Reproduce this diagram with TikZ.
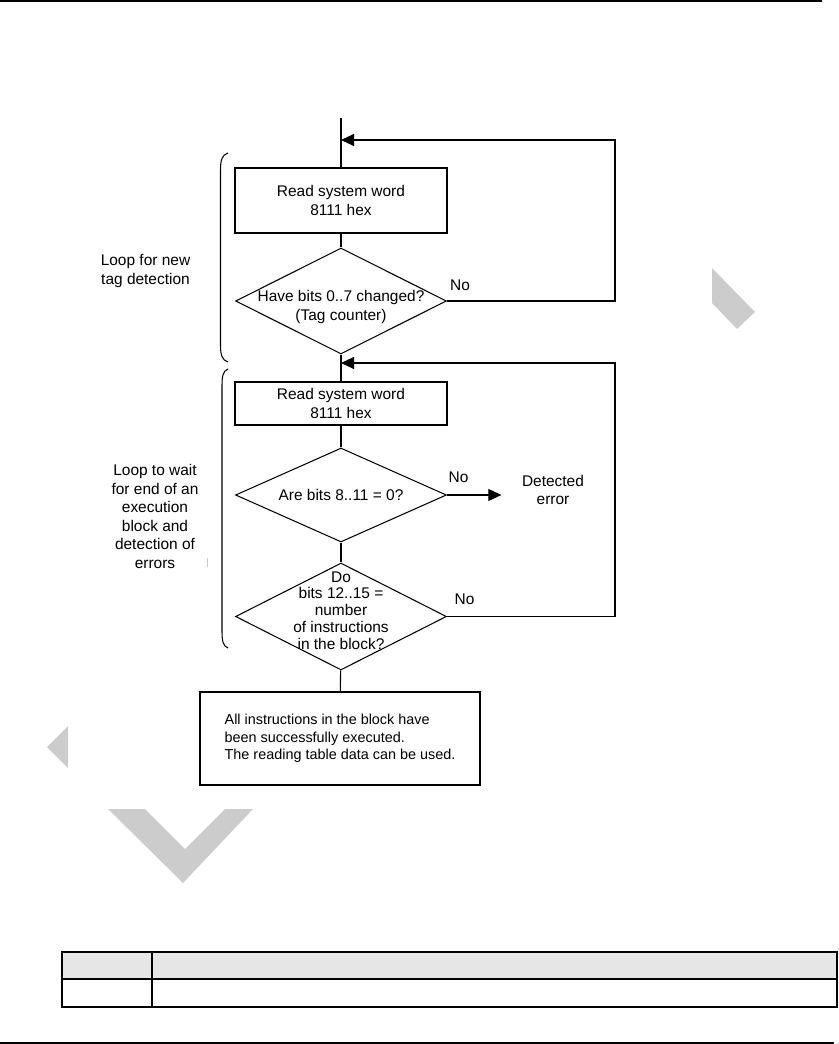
\documentclass[tikz,border=0pt]{standalone}
\usepackage{fontspec}
\setmainfont{Liberation Sans}
\usetikzlibrary{arrows.meta,positioning,shapes.geometric}
\definecolor{MarkGray}{RGB}{204,204,204}
\definecolor{HeadGray}{RGB}{230,230,230}

\begin{document}
\begin{tikzpicture}[
  x=0.02cm,
  y=-0.02cm,
  box/.style={
    rectangle,
    draw,
    line width=0.6pt,
    align=center,
    minimum width=4.24cm,
    minimum height=1.3cm,
    font=\fontsize{8.8}{10.5}\selectfont
  },
  decision/.style={
    diamond,
    draw,
    line width=0.6pt,
    inner sep=0pt,
    minimum width=4.22cm,
    minimum height=2.12cm
  },
  dtext/.style={
    align=center,
    inner sep=0pt,
    font=\fontsize{8.8}{10.5}\selectfont
  },
  note/.style={
    align=center,
    font=\fontsize{8.8}{10.6}\selectfont
  },
  flow/.style={line width=0.6pt},
  arrow/.style={line width=0.6pt, -{Triangle[length=7.4pt,width=6.8pt]}},
  tline/.style={line width=0.8pt}
]
\useasboundingbox (0,0) rectangle (838,1044);

% page rules
\draw[line width=0.9pt] (0,1) -- (822,1);
\draw[line width=0.9pt] (0,1043) -- (834,1043);

% grey marks behind the chart
\fill[MarkGray] (712,268) -- (712,303) -- (737,329) -- (755,312) -- cycle;
\fill[MarkGray] (47,747) -- (68,726) -- (68,768) -- cycle;
\fill[MarkGray] (108,809) -- (145,809) -- (185,849) -- (225,809) -- (253,809) -- (183,883) -- cycle;
\draw[MarkGray, line width=0.5pt] (207,558) -- (207,567);

% loop 1: new tag
\coordinate (start) at (341,118);
\coordinate (j1) at (341,140);
\coordinate (r1) at (615,140);
\node[box] (read1) at (341,200.5) {Read system word\\8111 hex};
\node[decision, label={[dtext, name=chk1t, yshift=-0.12cm]center:{Have bits 0..7 changed?\\(Tag counter)}}] (chk1) at (341,301) {};
\node[note] (no1) at (460,285) {No};

% loop 2: end of block and errors
\coordinate (j2) at (341,363);
\coordinate (r2) at (615,363);
\node[box, line width=1.1pt, minimum height=0.86cm] (read2) at (341,403.5) {Read system word\\8111 hex};
\node[decision, minimum height=1.88cm, label={[dtext, name=chk2t]center:{Are bits 8..11 = 0?}}] (chk2) at (341,495) {};
\node[note] (no2) at (458.5,477) {No};
\node[note] (err) at (553,490) {Detected\\error};
\node[decision, minimum height=2.14cm, label={[dtext, name=chk3t, yshift=0.12cm, font=\fontsize{8.8}{9.6}\selectfont]center:{Do\\bits 12..15 =\\number\\of instructions\\in the block?}}] (chk3) at (341,616.5) {};
\node[note] (no3) at (464.5,599) {No};

\node[box, line width=0.9pt, minimum width=5.6cm, minimum height=1.86cm, align=left, font=\fontsize{8.2}{10.1}\selectfont] (done) at (340,738.5) {All instructions in the block have\\been successfully executed.\\The reading table data can be used.};

% loop labels and brackets
\node[note] (loop1) at (145.5,271) {Loop for new\\tag detection};
\node[note] (loop2) at (155,516.5) {Loop to wait\\for end of an\\execution\\block and\\detection of\\errors};
\draw[flow] (228,153) .. controls (222,155) and (220.5,160) .. (220.5,170) -- (220.5,345) .. controls (220.5,355) and (222,360) .. (228,362);
\draw[flow] (228,369) .. controls (223,371) and (222,376) .. (222,386) -- (222,631) .. controls (222,641) and (223,646) .. (228,648);

% connectors
\draw[flow] (start) -- (read1);
\draw[flow] (read1) -- (chk1);
\draw[flow] (chk1) -- (read2);
\draw[flow] (read2) -- (chk2);
\draw[flow] (chk2) -- (chk3);
\draw[flow] (chk3) -- (done);
\draw[arrow] (chk1.east) -| (r1) -- (j1);
\draw[arrow] (chk3.east) -| (r2) -- (j2);
\draw[arrow, shorten >=0.29cm] (chk2.east) -- (chk2.east -| err.west);

% table
\fill[HeadGray] (62,952) rectangle (837,979);
\draw[tline] (62,952) rectangle (837,1007);
\draw[tline] (62,979) -- (837,979);
\draw[tline] (152,952) -- (152,1007);
\end{tikzpicture}
\end{document}
